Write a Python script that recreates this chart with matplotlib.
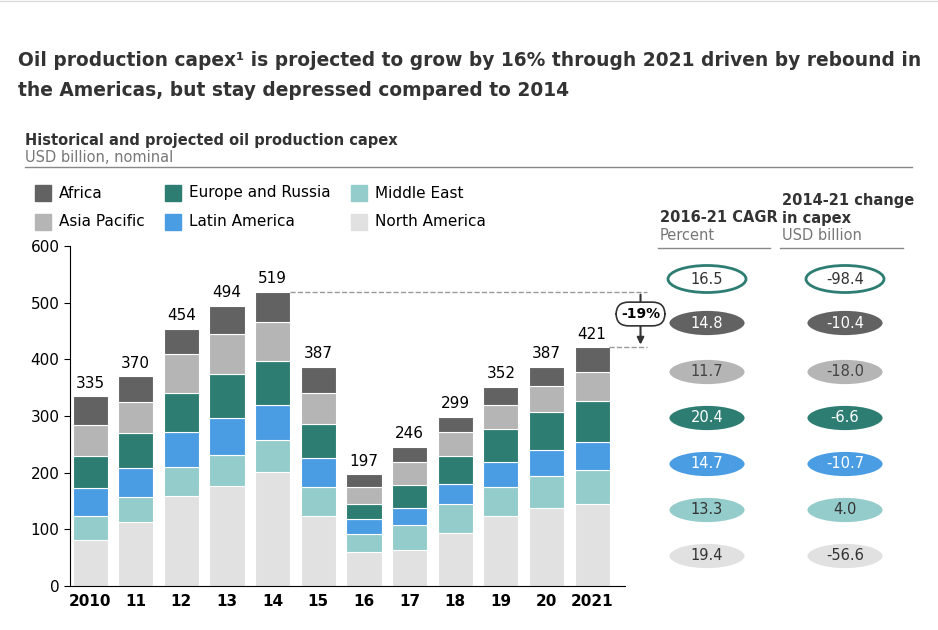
import matplotlib.pyplot as plt
from matplotlib.patches import Ellipse, Rectangle
import numpy as np

years = ['2010', '11', '12', '13', '14', '15', '16', '17', '18', '19', '20', '2021']
totals = [335, 370, 454, 494, 519, 387, 197, 246, 299, 352, 387, 421]
# segment values, bottom to top
north_america = [81, 113, 159, 176, 201, 124, 60, 64, 94, 124, 138, 145]
middle_east = [42, 44, 51, 55, 57, 51, 32, 44, 51, 51, 56, 60]
latin_america = [50, 51, 62, 65, 61, 51, 26, 30, 35, 44, 46, 49]
europe_russia = [56, 62, 69, 78, 78, 60, 27, 40, 49, 58, 67, 72]
asia_pacific = [55, 55, 68, 71, 69, 55, 30, 41, 43, 42, 46, 52]
africa = [t - (a + b + c + d + e) for t, a, b, c, d, e in
          zip(totals, north_america, middle_east, latin_america, europe_russia, asia_pacific)]

series = [north_america, middle_east, latin_america, europe_russia, asia_pacific, africa]
names = ['North America', 'Middle East', 'Latin America', 'Europe and Russia', 'Asia Pacific', 'Africa']
colors = ['#e1e1e1', '#93cccb', '#4b9de3', '#2d7d73', '#b5b5b5', '#626262']

cagr = ['16.5', '14.8', '11.7', '20.4', '14.7', '13.3', '19.4']
change = ['-98.4', '-10.4', '-18.0', '-6.6', '-10.7', '4.0', '-56.6']

fig = plt.figure(figsize=(9.38, 6.3), dpi=100)
ax = fig.add_axes([70/938, 44/630, 555/938, 340/630])
x = np.arange(len(years))
bottom = np.zeros(len(years))
for vals, c in zip(series, colors):
    ax.bar(x, vals, bottom=bottom, width=0.77, color=c, edgecolor='white', linewidth=0.8)
    bottom += np.array(vals)
for xi, t in zip(x, totals):
    ax.text(xi, t + 10, str(t), ha='center', va='bottom', fontsize=11)
ax.set_ylim(0, 600)
ax.set_xlim(-0.44, 11.72)
ax.set_yticks(range(0, 601, 100))
ax.set_xticks(x)
ax.set_xticklabels(years, fontsize=11, fontweight='bold')
ax.tick_params(axis='y', labelsize=11, length=4)
ax.tick_params(axis='x', length=0, pad=6)
for s in ['top', 'right']:
    ax.spines[s].set_visible(False)

# -19% annotation
ax.plot([4.38, 12.2], [519, 519], ls='--', color='#999999', lw=1, clip_on=False)
ax.plot([11.38, 12.2], [421, 421], ls='--', color='#999999', lw=1, clip_on=False)
ax.annotate('', xy=(12.06, 421), xytext=(12.06, 519), annotation_clip=False,
            arrowprops=dict(arrowstyle='-|>', color='#333333', lw=1.5))
ax.text(12.06, 480, '-19%', ha='center', va='center', fontsize=10, fontweight='bold',
        bbox=dict(boxstyle='round,pad=0.35,rounding_size=0.9', fc='white', ec='#333333', lw=1.2),
        clip_on=False)

# overlay in pixel coordinates
ov = fig.add_axes([0, 0, 1, 1], zorder=-1)
ov.set_xlim(0, 938)
ov.set_ylim(630, 0)
ov.axis('off')
ov.plot([0, 938], [1, 1], color='#dddddd', lw=1)
ov.text(18, 60, 'Oil production capex¹ is projected to grow by 16% through 2021 driven by rebound in',
        fontsize=13.4, fontweight='bold', color='#333333', va='center')
ov.text(18, 91, 'the Americas, but stay depressed compared to 2014',
        fontsize=13.4, fontweight='bold', color='#333333', va='center')
ov.text(25, 140, 'Historical and projected oil production capex', fontsize=10.5,
        fontweight='bold', color='#333333', va='center')
ov.text(25, 157, 'USD billion, nominal', fontsize=10.5, color='#777777', va='center')
ov.plot([25, 912], [167, 167], color='#888888', lw=1)

legend = [('Africa', 5, 43, 193), ('Europe and Russia', 3, 173, 193), ('Middle East', 1, 359, 193),
          ('Asia Pacific', 4, 43, 222), ('Latin America', 2, 173, 222), ('North America', 0, 359, 222)]
for lab, idx, lx, ly in legend:
    ov.add_patch(Rectangle((lx - 8, ly - 8), 16, 16, color=colors[idx]))
    ov.text(lx + 16, ly, lab, fontsize=11, va='center')

ov.text(660, 218, '2016-21 CAGR', fontsize=10.5, fontweight='bold', color='#333333', va='center')
ov.text(660, 236, 'Percent', fontsize=10.5, color='#777777', va='center')
ov.plot([658, 770], [248, 248], color='#888888', lw=1)
ov.text(782, 200, '2014-21 change', fontsize=10.5, fontweight='bold', color='#333333', va='center')
ov.text(782, 218, 'in capex', fontsize=10.5, fontweight='bold', color='#333333', va='center')
ov.text(782, 236, 'USD billion', fontsize=10.5, color='#777777', va='center')
ov.plot([780, 903], [248, 248], color='#888888', lw=1)

row_y = [279, 323, 372, 418, 464, 510, 556]
fills = ['white', colors[5], colors[4], colors[3], colors[2], colors[1], colors[0]]
edges = ['#2d7d73', 'white', 'white', 'white', 'white', 'white', 'white']
tcols = ['#333333', 'white', '#444444', 'white', 'white', '#333333', '#333333']
for ry, f, e, tc, a, b in zip(row_y, fills, edges, tcols, cagr, change):
    for cx, val in [(707, a), (845, b)]:
        ov.add_patch(Ellipse((cx, ry), 78, 27, fc=f, ec=e, lw=2))
        ov.text(cx, ry, val, ha='center', va='center', fontsize=10.5, color=tc)

fig.savefig('out.png', dpi=100)
